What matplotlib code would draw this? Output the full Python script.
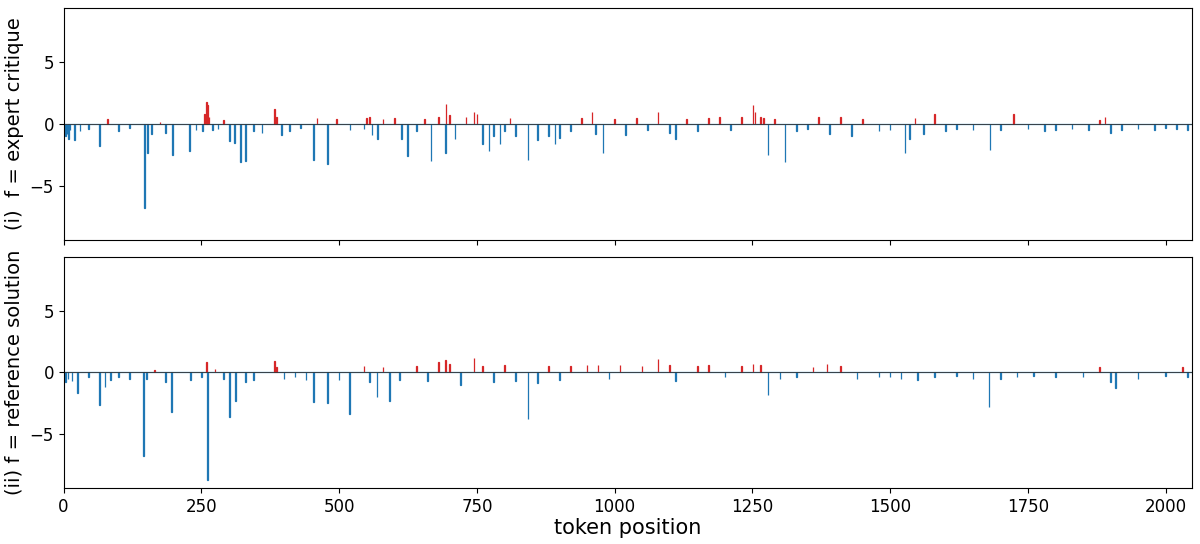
import matplotlib
matplotlib.use("Agg")
import matplotlib.pyplot as plt
import numpy as np

N = 2048
# (token position, value) spikes, panel (i)
pos1 = [3,6,9,12,20,30,45,65,80,100,120,147,152,160,175,185,198,228,240,252,256,259,261,264,270,280,290,301,310,321,330,345,360,383,386,395,410,430,453,460,479,495,520,545,550,555,560,570,580,600,613,624,640,655,667,680,693,694,700,710,730,745,750,760,772,780,792,800,810,820,843,860,880,892,900,920,940,959,965,979,1000,1020,1040,1060,1079,1100,1110,1130,1150,1170,1190,1210,1230,1251,1255,1265,1270,1278,1290,1309,1330,1350,1370,1390,1410,1430,1450,1480,1500,1527,1535,1545,1560,1580,1600,1620,1650,1681,1700,1724,1750,1780,1800,1830,1860,1880,1890,1900,1920,1950,1980,2000,2020,2040]
val1 = [-1.0,-0.8,-1.2,-0.5,-1.3,-0.6,-0.4,-1.8,0.4,-0.6,-0.3,-6.8,-2.3,-0.8,0.2,-0.7,-2.5,-2.2,-0.5,-0.6,0.8,1.8,1.5,0.6,-0.5,-0.4,0.3,-1.4,-1.5,-3.1,-3.0,-0.6,-0.7,1.2,0.6,-0.9,-0.6,-0.3,-2.9,0.5,-3.2,0.4,-0.5,-0.4,0.5,0.6,-0.9,-1.2,0.4,0.5,-1.2,-2.6,-0.6,0.4,-3.0,0.6,-2.3,1.6,0.7,-1.2,0.6,1.0,0.8,-1.6,-2.2,-1.0,-1.6,-0.6,0.5,-1.0,-2.9,-1.3,-1.0,-1.6,-1.1,-0.6,0.5,1.0,-0.8,-2.3,0.4,-0.9,0.5,-0.5,1.0,-0.7,-1.2,0.4,-0.6,0.5,0.6,-0.5,0.6,1.5,1.0,0.6,0.5,-2.5,0.4,-3.1,-0.6,-0.4,0.6,-0.8,0.6,-1.0,0.4,-0.6,-0.5,-2.3,-1.2,0.5,-0.8,0.8,-0.6,-0.4,-0.5,-2.1,-0.5,0.8,-0.4,-0.6,-0.5,-0.4,-0.5,0.3,0.6,-0.7,-0.5,-0.4,-0.5,-0.3,-0.4,-0.5]
# panel (ii)
pos2 = [3,8,15,25,45,65,75,85,100,120,145,150,165,185,196,230,250,259,261,275,290,301,312,330,345,383,386,400,420,440,453,479,500,519,545,555,569,580,591,610,640,660,680,693,700,720,745,760,780,800,820,843,860,880,900,920,950,970,990,1010,1050,1079,1100,1110,1150,1170,1200,1230,1251,1265,1278,1300,1330,1360,1385,1410,1440,1480,1500,1520,1550,1580,1620,1650,1679,1700,1730,1760,1800,1850,1880,1900,1909,1950,2000,2030,2040]
val2 = [-0.8,-0.5,-0.7,-1.7,-0.4,-2.6,-1.2,-0.6,-0.4,-0.5,-6.8,-0.5,0.2,-0.8,-3.2,-0.6,-0.4,0.8,-8.7,0.3,-0.5,-3.6,-2.3,-0.8,-0.6,0.9,0.4,-0.5,-0.4,-0.6,-2.4,-2.5,-0.6,-3.4,0.5,-0.8,-2.0,0.4,-2.3,-0.6,0.5,-0.7,0.8,1.0,0.7,-1.0,1.2,0.5,-0.8,0.6,-0.7,-3.8,-0.9,0.5,-0.6,0.5,0.6,0.6,-0.5,0.6,0.5,1.1,0.6,-0.7,0.5,0.6,-0.4,0.5,0.7,0.6,-1.8,-0.5,-0.4,0.4,0.7,0.5,-0.5,-0.4,-0.4,-0.5,-0.6,-0.4,-0.3,-0.5,-2.8,-0.5,-0.4,-0.3,-0.4,-0.4,0.4,-0.8,-1.3,-0.5,-0.3,0.4,-0.4]

def series(pos, val):
    y = np.zeros(N)
    y[np.array(pos)] = val
    return y

fig = plt.figure(figsize=(12, 5.44), dpi=100)
ax1 = fig.add_axes([0.053, 0.559, 0.94, 0.426])
ax2 = fig.add_axes([0.053, 0.103, 0.94, 0.425], sharex=ax1)
for ax, (p, v), lab in [(ax1, (pos1, val1), "(i)  f = expert critique"),
                         (ax2, (pos2, val2), "(ii) f = reference solution")]:
    y = series(p, v)
    x = np.arange(N)
    cols = np.where(y > 0, "#d62728", "#1f77b4")
    ax.bar(x, y, width=1.0, color=cols, edgecolor=cols, linewidth=0.9)
    ax.axhline(0, color="#333333", lw=0.6)
    ax.set_xlim(0, N - 1)
    ax.set_ylim(-9.35, 9.35)
    ax.set_yticks([-5, 0, 5])
    ax.set_ylabel(lab, fontsize=14)
    ax.tick_params(labelsize=12)
plt.setp(ax1.get_xticklabels(), visible=False)
ax2.set_xticks([0, 250, 500, 750, 1000, 1250, 1500, 1750, 2000])
ax2.set_xlabel("token position", fontsize=15, labelpad=2)
fig.savefig("out.png")
